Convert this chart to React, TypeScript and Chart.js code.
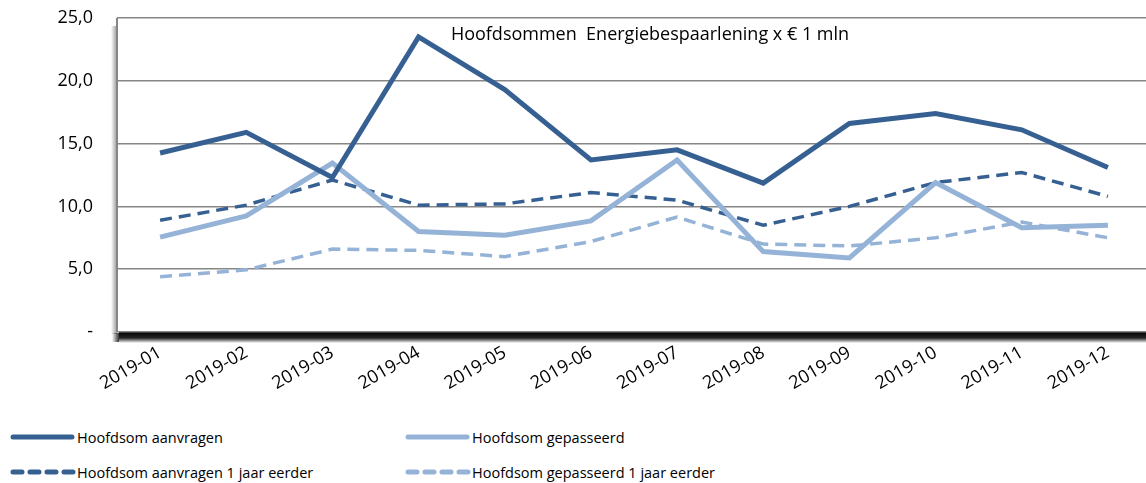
import React, { useEffect, useRef } from "react";
import { Chart, registerables } from "chart.js";

Chart.register(...registerables);

const months = ["2019-01", "2019-02", "2019-03", "2019-04", "2019-05", "2019-06", "2019-07", "2019-08", "2019-09", "2019-10", "2019-11", "2019-12"];
const aanvragen = [14.25, 15.9, 12.3, 23.5, 19.3, 13.7, 14.5, 11.85, 16.6, 17.4, 16.1, 13.1];
const gepasseerd = [7.55, 9.25, 13.45, 8.0, 7.7, 8.85, 13.7, 6.4, 5.9, 11.9, 8.3, 8.5];
const aanvragenVorigJaar = [8.9, 10.1, 12.1, 10.1, 10.2, 11.1, 10.5, 8.5, 10.0, 11.9, 12.7, 10.8];
const gepasseerdVorigJaar = [4.4, 4.95, 6.6, 6.5, 6.0, 7.2, 9.15, 7.0, 6.85, 7.5, 8.75, 7.5];
const seriesNames = ["Hoofdsom aanvragen", "Hoofdsom gepasseerd", "Hoofdsom aanvragen 1  jaar eerder", "Hoofdsom gepasseerd 1 jaar eerder"];
const chartTitle = "Hoofdsommen  Energiebespaarlening x € 1 mln";
const yMin = 0;
const yMax = 25;
const yStep = 5;

const DARK = "#376092";
const LIGHT = "#95b3d7";
const FONT = "'Open Sans', 'Noto Sans', sans-serif";

const framePlugin = {
  id: "frame",
  beforeDraw(chart: any) {
    const { ctx, chartArea: a } = chart;
    ctx.save();
    const g = ctx.createLinearGradient(0, a.bottom, 0, a.bottom + 11);
    g.addColorStop(0, "rgba(0,0,0,1)");
    g.addColorStop(0.55, "rgba(0,0,0,0.85)");
    g.addColorStop(1, "rgba(0,0,0,0)");
    ctx.fillStyle = g;
    ctx.fillRect(a.left + 2, a.bottom, a.right - a.left + 20, 11);
    const gc = ctx.createLinearGradient(a.left + 2, 0, a.left - 5, 0);
    gc.addColorStop(0, "rgba(0,0,0,0.8)");
    gc.addColorStop(1, "rgba(0,0,0,0)");
    ctx.fillStyle = gc;
    ctx.fillRect(a.left - 5, a.bottom + 1, 7, 9);
    const g2 = ctx.createLinearGradient(a.left, 0, a.left - 6, 0);
    g2.addColorStop(0, "rgba(0,0,0,0.4)");
    g2.addColorStop(1, "rgba(0,0,0,0)");
    ctx.fillStyle = g2;
    ctx.fillRect(a.left - 6, a.top + 8, 6, a.bottom - a.top - 6);
    ctx.restore();
  },
  beforeDatasetsDraw(chart: any) {
    const { ctx, chartArea: a } = chart;
    ctx.save();
    ctx.strokeStyle = "#868686";
    ctx.lineWidth = 2;
    ctx.beginPath();
    ctx.moveTo(a.left, a.top);
    ctx.lineTo(a.left, a.bottom);
    ctx.stroke();
    ctx.fillStyle = "#000";
    ctx.font = `18px ${FONT}`;
    ctx.textAlign = "center";
    ctx.textBaseline = "middle";
    ctx.fillText(chartTitle, (a.left + a.right) / 2 + 16, a.top + 17);
    ctx.restore();
  },
};

function LegendItem({ x, y, color, dashed, label }: { x: number; y: number; color: string; dashed: boolean; label: string }) {
  return (
    <div style={{ position: "absolute", left: x, top: y - 12, height: 24, display: "flex", alignItems: "center", whiteSpace: "nowrap" }}>
      <svg width={66} height={10} style={{ display: "block" }}>
        <line x1={3} y1={5} x2={dashed ? 64 : 62} y2={5} stroke={color} strokeWidth={5} strokeLinecap="round" strokeDasharray={dashed ? "9 8" : undefined} />
      </svg>
      <span style={{ fontFamily: FONT, fontSize: 14.5, color: "#000", marginLeft: 1 }}>{label}</span>
    </div>
  );
}

export default function App() {
  const ref = useRef<HTMLCanvasElement>(null);
  useEffect(() => {
    if (!ref.current) return;
    const chart = new Chart(ref.current, {
      type: "line",
      data: {
        labels: months,
        datasets: [
          { label: seriesNames[0], data: aanvragen, borderColor: DARK, backgroundColor: DARK, borderWidth: 5, pointRadius: 0, tension: 0 },
          { label: seriesNames[1], data: gepasseerd, borderColor: LIGHT, backgroundColor: LIGHT, borderWidth: 5, pointRadius: 0, tension: 0 },
          { label: seriesNames[2], data: aanvragenVorigJaar, borderColor: DARK, backgroundColor: DARK, borderWidth: 3.5, borderDash: [12, 7], pointRadius: 0, tension: 0 },
          { label: seriesNames[3], data: gepasseerdVorigJaar, borderColor: LIGHT, backgroundColor: LIGHT, borderWidth: 3.5, borderDash: [12, 7], pointRadius: 0, tension: 0 },
        ],
      },
      options: {
        animation: false,
        responsive: false,
        maintainAspectRatio: false,
        layout: { padding: { top: 18, right: 9, left: 0, bottom: 0 } },
        plugins: { legend: { display: false }, tooltip: { enabled: false }, title: { display: false } },
        scales: {
          x: {
            offset: true,
            grid: { display: false, drawTicks: false },
            border: { display: false },
            ticks: { color: "#000", font: { family: FONT, size: 18 }, minRotation: 30, maxRotation: 30, padding: 10, autoSkip: false },
            afterFit: (s: any) => { s.height = 78; },
          },
          y: {
            min: yMin,
            max: yMax,
            grid: { color: "#868686", lineWidth: 1.5, drawTicks: false },
            border: { display: false },
            ticks: {
              stepSize: yStep,
              color: "#000",
              font: { family: FONT, size: 18 },
              padding: 24,
              callback: (v: any) => (Number(v) === 0 ? "-" : Number(v).toFixed(1).replace(".", ",")),
            },
            afterFit: (s: any) => { s.width = 117; s.paddingTop = 0; s.paddingBottom = 0; },
          },
        },
      },
      plugins: [framePlugin],
    });
    return () => chart.destroy();
  }, []);

  return (
    <div style={{ position: "absolute", left: 0, top: 0, width: 1146, height: 483, overflow: "hidden", background: "#fff" }}>
      <canvas ref={ref} width={1160} height={410} style={{ position: "absolute", left: 0, top: 0, width: 1160, height: 410 }} />
      <LegendItem x={10} y={437} color={DARK} dashed={false} label={seriesNames[0]} />
      <LegendItem x={405} y={437} color={LIGHT} dashed={false} label={seriesNames[1]} />
      <LegendItem x={10} y={472} color={DARK} dashed={true} label={seriesNames[2]} />
      <LegendItem x={405} y={472} color={LIGHT} dashed={true} label={seriesNames[3]} />
    </div>
  );
}
